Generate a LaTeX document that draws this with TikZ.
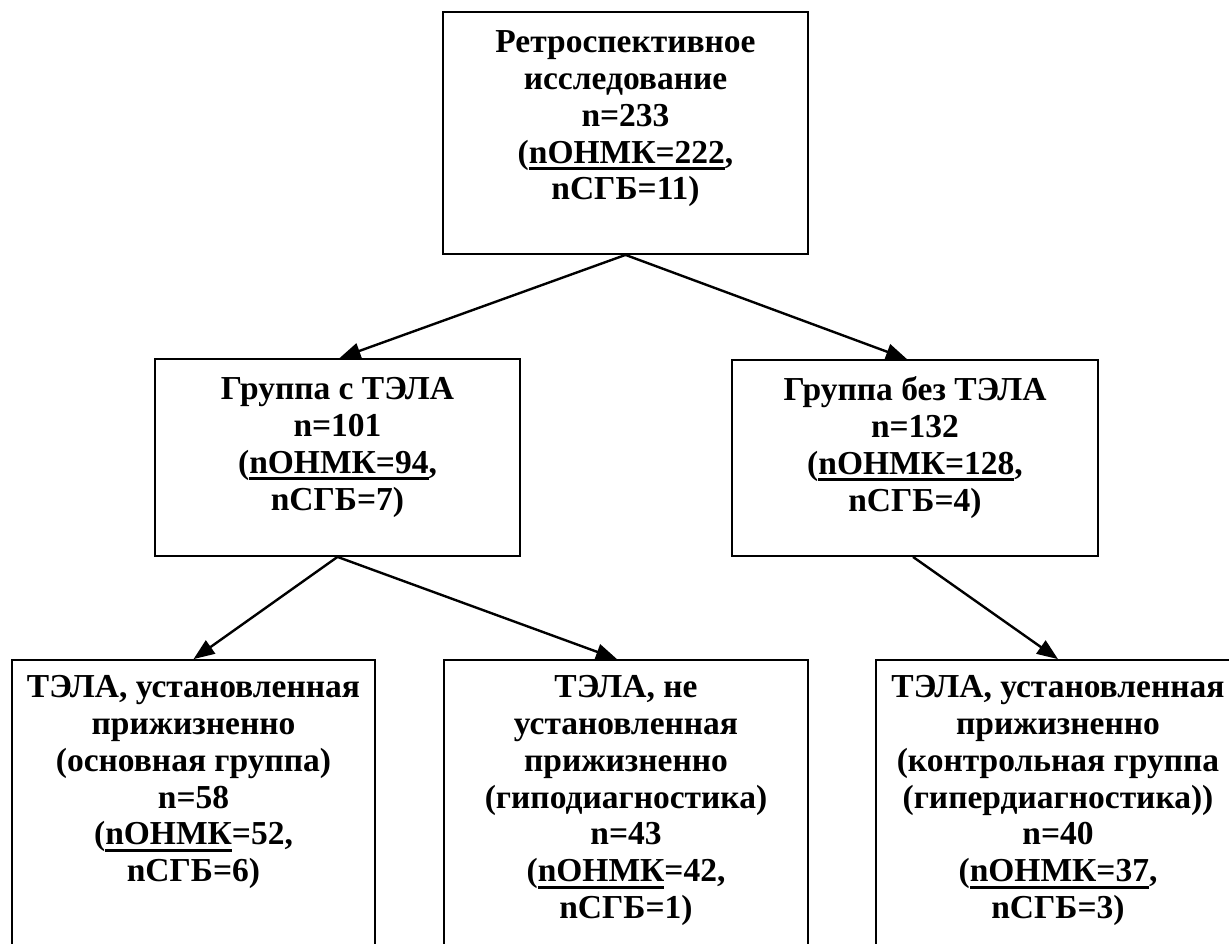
\documentclass[tikz,border=0pt]{standalone}
\usepackage{fontspec}
\setmainfont{Liberation Serif}
\usetikzlibrary{arrows.meta}
\newsavebox\myulbox
\newcommand\myul[1]{\sbox\myulbox{#1}\rlap{\rule[-7pt]{\wd\myulbox}{3.2pt}}\usebox\myulbox}
\newcommand\firststrut{\rule{0pt}{26pt}}
\tikzset{
  boxnode/.style={draw=black, line width=1.8pt, rectangle, inner sep=0pt, fill=white},
  boxtext/.style={anchor=north, inner sep=0pt, align=center, font=\fontsize{33.5}{36.9}\selectfont\bfseries},
  arrowline/.style={line width=2.4pt, -{Triangle[length=21pt,width=16pt]}}
}
\begin{document}
\begin{tikzpicture}[x=1pt,y=-1pt]
\useasboundingbox (0,0) rectangle (1229,943);
\clip (0,0) rectangle (1229,943);
\fill[white] (0,0) rectangle (1229,943);
% boxes
\node[boxnode, minimum width=365pt, minimum height=242pt] (top) at (625.5,133) {};
\node[boxnode, minimum width=365pt, minimum height=197pt] (ml) at (337.5,457.5) {};
\node[boxnode, minimum width=366pt, minimum height=196pt] (mr) at (915,458) {};
\node[boxnode, minimum width=363pt, minimum height=300pt] (bl) at (193.5,810) {};
\node[boxnode, minimum width=364pt, minimum height=300pt] (bm) at (626,810) {};
\node[boxnode, minimum width=364pt, minimum height=300pt] (br) at (1058,810) {};
% texts
\node[boxtext] (ttop) at ([yshift=-15pt]top.north) {\firststrut Ретроспективное\\исследование\\n=233\\(\myul{nОНМК=222},\\nСГБ=11)};
\node[boxtext] (tml) at ([yshift=-15pt]ml.north) {\firststrut Группа с ТЭЛА\\n=101\\(\myul{nОНМК=94},\\nСГБ=7)};
\node[boxtext] (tmr) at ([yshift=-15pt]mr.north) {\firststrut Группа без ТЭЛА\\n=132\\(\myul{nОНМК=128},\\nСГБ=4)};
\node[boxtext] (tbl) at ([yshift=-12pt]bl.north) {\firststrut ТЭЛА, установленная\\прижизненно\\(основная группа)\\n=58\\(\myul{nОНМК}=52,\\nСГБ=6)};
\node[boxtext] (tbm) at ([yshift=-12pt]bm.north) {\firststrut ТЭЛА, не\\установленная\\прижизненно\\(гиподиагностика)\\n=43\\(\myul{nОНМК}=42,\\nСГБ=1)};
\node[boxtext] (tbr) at ([yshift=-12pt]br.north) {\firststrut ТЭЛА, установленная\\прижизненно\\(контрольная группа\\(гипердиагностика))\\n=40\\(\myul{nОНМК=37},\\nСГБ=3)};
% connectors
\draw[arrowline] (top.south) -- ([xshift=2pt]ml.north);
\draw[arrowline] (top.south) -- ([xshift=-8pt]mr.north);
\draw[arrowline] (ml.south) -- (bl.north);
\draw[arrowline] (ml.south) -- ([xshift=-9pt]bm.north);
\draw[arrowline] ([xshift=-2pt]mr.south) -- (br.north);
\end{tikzpicture}
\end{document}
